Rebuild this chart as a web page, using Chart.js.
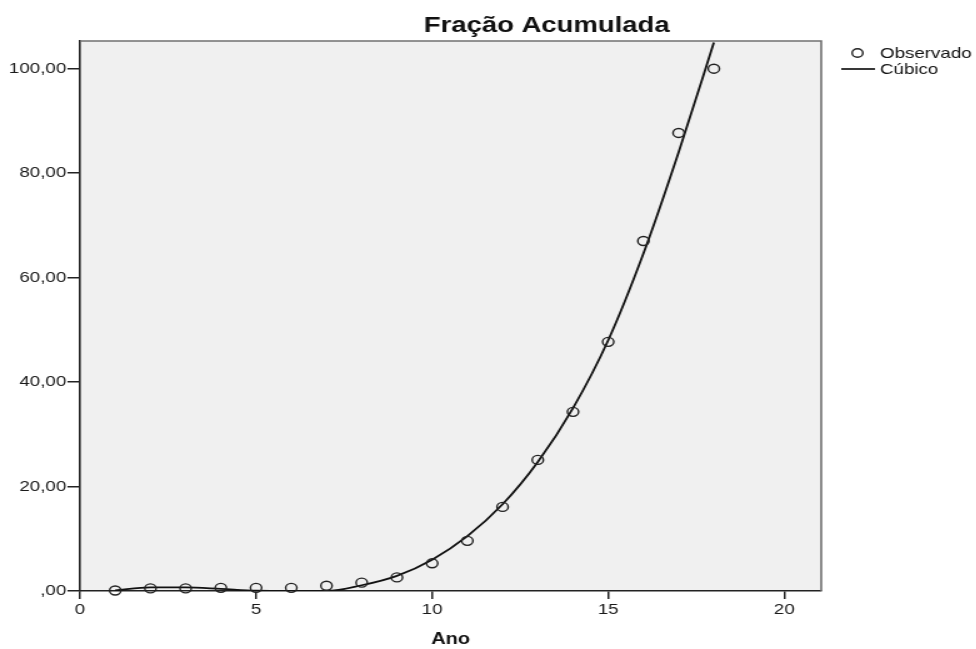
<!DOCTYPE html>
<html lang="pt">
<head>
    <meta charset="UTF-8">
    <title>Fração Acumulada</title>
    <script src="https://cdn.jsdelivr.net/npm/chart.js"></script>
    <style>
        body {
            margin: 0;
            background: #ffffff;
            overflow: hidden;
        }
        /* the original picture is stretched sideways, so the chart is too */
        .wrap {
            width: 781px;
            height: 649px;
            transform: scaleX(1.25);
            transform-origin: 0 0;
        }
    </style>
</head>
<body>
    <div class="wrap"><canvas id="fracaoChart"></canvas></div>

    <script>
        const titulo = 'Fração Acumulada';
        const anos = [1, 2, 3, 4, 5, 6, 7, 8, 9, 10, 11, 12, 13, 14, 15, 16, 17, 18];
        const observado = [0.1, 0.5, 0.5, 0.6, 0.6, 0.6, 1.0, 1.6, 2.6, 5.3, 9.6, 16.1, 25.1, 34.3, 47.7, 67.0, 87.7, 100.0];
        const cubico = [0.1, 0.7, 0.7, 0.4, 0.05, 0, 0, 1.1, 2.9, 6.0, 10.5, 16.6, 24.7, 35.0, 48.0, 64.6, 84.0, 105.0];
        const xTicks = [0, 5, 10, 15, 20];
        const yTicks = [0, 20, 40, 60, 80, 100];

        const fonte = '"Liberation Sans", Arial, sans-serif';
        Chart.defaults.font.family = fonte;
        Chart.defaults.color = '#1a1a1a';

        // grey plot background, top/right frame, title and legend
        const moldura = {
            id: 'moldura',
            beforeDraw(chart) {
                const { ctx, chartArea: a } = chart;
                ctx.save();
                ctx.fillStyle = '#f0f0f0';
                ctx.fillRect(a.left, a.top, a.right - a.left, a.bottom - a.top);
                ctx.restore();
            },
            afterDraw(chart) {
                const { ctx, chartArea: a } = chart;
                ctx.save();
                ctx.strokeStyle = '#707070';
                ctx.lineWidth = 1.6;
                ctx.beginPath();
                ctx.moveTo(a.left, a.top);
                ctx.lineTo(a.right, a.top);
                ctx.lineTo(a.right, a.bottom);
                ctx.stroke();

                ctx.fillStyle = '#111';
                ctx.font = 'bold 22px ' + fonte;
                ctx.textAlign = 'center';
                ctx.textBaseline = 'alphabetic';
                ctx.fillText(titulo, chart.width * 0.56, 32);

                ctx.font = '15px ' + fonte;
                ctx.textAlign = 'left';
                ctx.textBaseline = 'middle';
                chart.data.datasets.forEach((ds, i) => {
                    const y = 53 + i * 16;
                    const cx = a.right + 29;
                    ctx.strokeStyle = '#222';
                    ctx.beginPath();
                    if (ds.showLine) {
                        ctx.lineWidth = 1.8;
                        ctx.moveTo(cx - 13, y);
                        ctx.lineTo(cx + 14, y);
                    } else {
                        ctx.lineWidth = 1.4;
                        ctx.arc(cx, y, 4.3, 0, Math.PI * 2);
                    }
                    ctx.stroke();
                    ctx.fillText(ds.label, a.right + 47, y + 1);
                });
                ctx.restore();
            }
        };

        const ctx = document.getElementById('fracaoChart').getContext('2d');
        new Chart(ctx, {
            type: 'scatter',
            data: {
                datasets: [{
                    label: 'Observado',
                    data: anos.map((a, i) => ({ x: a, y: observado[i] })),
                    showLine: false,
                    pointRadius: 4.5,
                    pointBorderWidth: 1.4,
                    pointBorderColor: '#222',
                    pointBackgroundColor: 'rgba(0,0,0,0)',
                    clip: false
                }, {
                    label: 'Cúbico',
                    data: anos.map((a, i) => ({ x: a, y: cubico[i] })),
                    showLine: true,
                    cubicInterpolationMode: 'monotone',
                    borderColor: '#111',
                    borderWidth: 1.8,
                    pointRadius: 0
                }]
            },
            options: {
                responsive: true,
                maintainAspectRatio: false,
                animation: false,
                layout: { padding: { top: 41, right: 124, left: 0, bottom: 0 } },
                plugins: {
                    legend: { display: false },
                    title: { display: false },
                    tooltip: { enabled: false }
                },
                scales: {
                    x: {
                        type: 'linear',
                        min: 0,
                        max: 21.05,
                        afterBuildTicks: s => { s.ticks = xTicks.map(v => ({ value: v })); },
                        afterFit: s => { s.height = 58; },
                        ticks: {
                            padding: 2,
                            font: { size: 15 },
                            color: '#1a1a1a'
                        },
                        grid: { drawOnChartArea: false, tickLength: 8, color: '#222', lineWidth: 1.5 },
                        border: { color: '#222', width: 1.6 },
                        title: {
                            display: true,
                            text: 'Ano',
                            color: '#111',
                            font: { size: 16, weight: 'bold' },
                            padding: { top: 0, bottom: 0 }
                        }
                    },
                    y: {
                        min: 0,
                        max: 105.3,
                        afterBuildTicks: s => { s.ticks = yTicks.map(v => ({ value: v })); },
                        afterFit: s => { s.width = 64; },
                        ticks: {
                            padding: 1,
                            font: { size: 15 },
                            color: '#1a1a1a',
                            callback: v => v === 0 ? ',00' : v.toFixed(2).replace('.', ',')
                        },
                        grid: { drawOnChartArea: false, tickLength: 10, color: '#222', lineWidth: 1.5 },
                        border: { color: '#222', width: 1.6 }
                    }
                }
            },
            plugins: [moldura]
        });
    </script>
</body>
</html>
